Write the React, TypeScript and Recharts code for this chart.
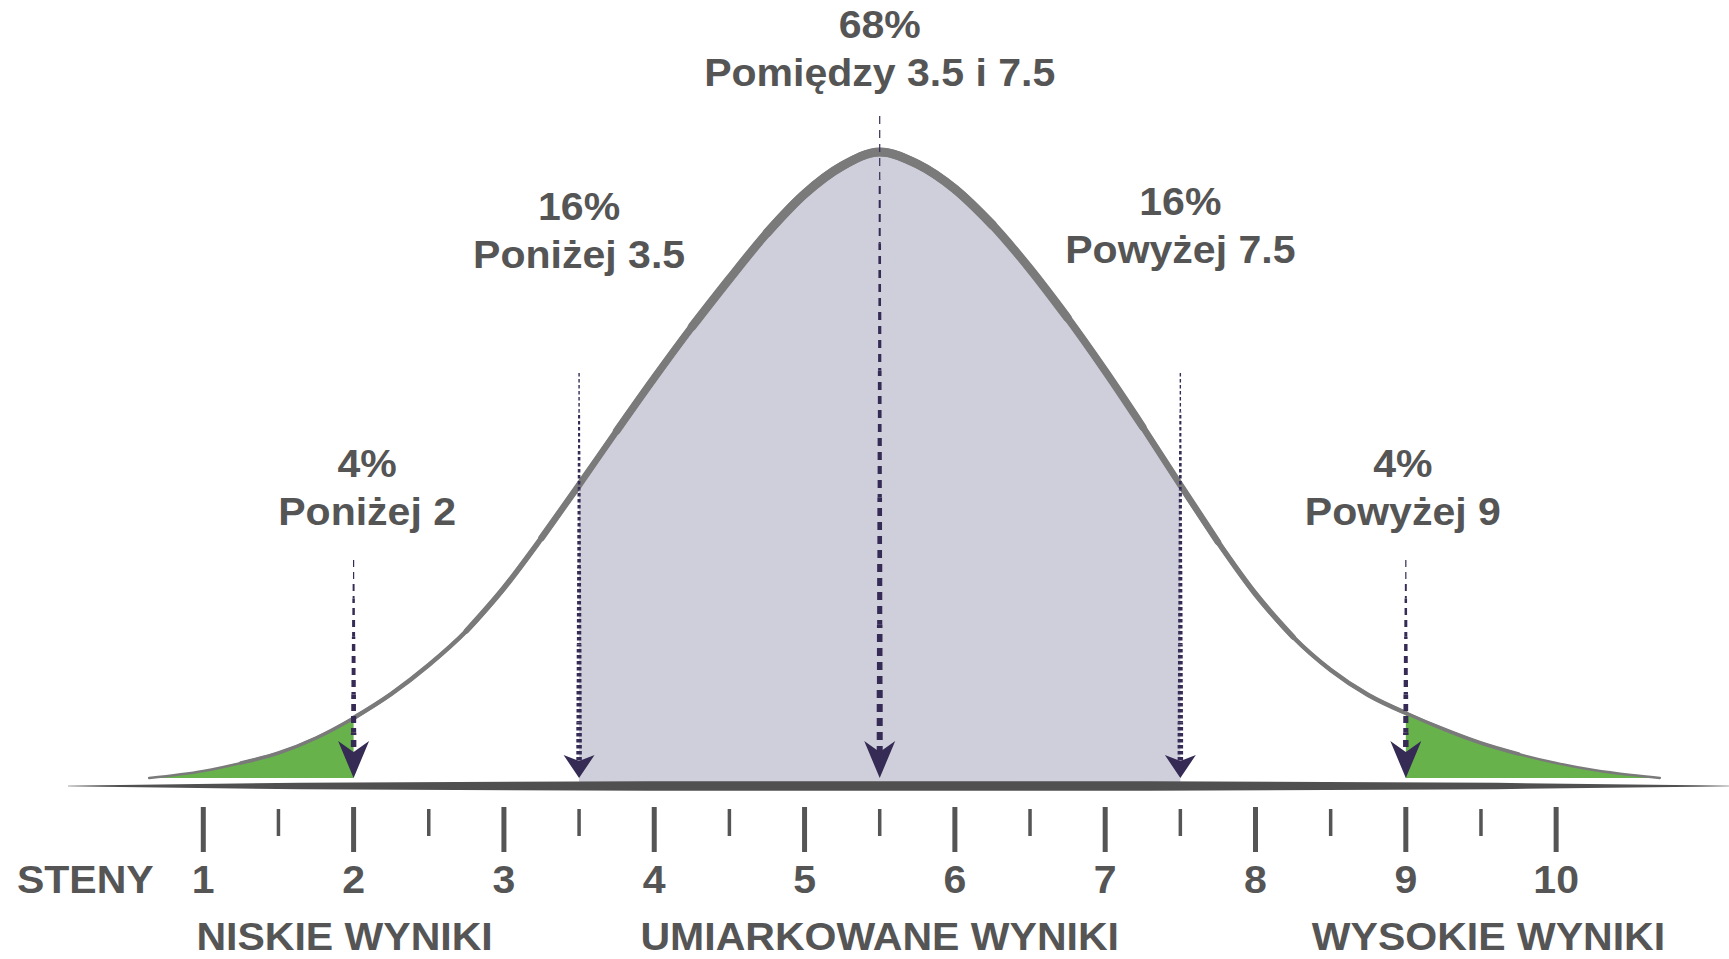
import { ComposedChart, Area, Line, XAxis, YAxis, ReferenceLine, ReferenceDot } from "recharts";

const stenSteps = [0.64, 1, 1.25, 1.5, 1.75, 2, 2.25, 2.5, 2.75, 3, 3.25, 3.5, 3.75, 4, 4.25, 4.5, 4.75, 5, 5.25, 5.5, 5.75, 6, 6.25, 6.5, 6.75, 7, 7.25, 7.5, 7.75, 8, 8.25, 8.5, 8.75, 9, 9.25, 9.5, 9.75, 10, 10.25, 10.5, 10.69];
// curve height above the base line (relative units, peak = 626)
const curveHeight = [0, 7, 15, 25, 40, 60, 84, 113, 147, 190, 240, 293, 347, 400, 451, 499, 545, 584, 612, 626, 614, 589, 553, 509, 460, 407, 351, 293, 236, 184, 141, 108, 83, 65, 49, 35, 24, 15, 8, 3, 0];

const stenTicks = [1, 1.5, 2, 2.5, 3, 3.5, 4, 4.5, 5, 5.5, 6, 6.5, 7, 7.5, 8, 8.5, 9, 9.5, 10];

const lowCut = 2;
const midFrom = 3.5;
const midTo = 7.5;
const highCut = 9;

const arrowX = [2, 3.5, 5.5, 7.5, 9];
const arrowTop = [218, 405, 662, 405, 218];

const annotX = [2.09, 3.5, 5.5, 7.5, 8.98];
const annotLevel = [301, 558, 740, 563, 301];
const annotPct = ["4%", "16%", "68%", "16%", "4%"];
const annotText = ["Poniżej 2", "Poniżej 3.5", "Pomiędzy 3.5 i 7.5", "Powyżej 7.5", "Powyżej 9"];

const groupNames = ["NISKIE WYNIKI", "UMIARKOWANE WYNIKI", "WYSOKIE WYNIKI"];
const groupCenter = [1.94, 5.5, 9.55];

// ---- looks ----
const FONT = "'Liberation Sans', Arial, Helvetica, sans-serif";
const TEXT = "#555555";
const NAVY = "#352b54";
const GREEN = "#68b24c";
const LAVENDER = "#cfcfdb";
const CURVE = "#7a7a7a";
const WIDE = 1.08; // the original lettering is a bit wider than Arial

// the curve's stroke thickens towards the middle
const strokeBands = [
  { from: 0.64, to: 10.69, w: 2.5 },
  { from: 1.25, to: 9.75, w: 3.5 },
  { from: 2, to: 9, w: 4.5 },
  { from: 2.75, to: 8.25, w: 5.5 },
  { from: 3.25, to: 7.75, w: 6.5 },
  { from: 3.75, to: 7.25, w: 7.5 },
  { from: 4.25, to: 6.75, w: 8.5 },
  { from: 4.75, to: 6.25, w: 9 },
];

const arrowLook = [
  { head: 37, hw: 15.5, notch: 11, dash: "7 5", w0: 1.2, w1: 5.5 },
  { head: 23, hw: 15.5, notch: 6, dash: "3.5 2.5", w0: 1.4, w1: 5.5 },
  { head: 37, hw: 15.5, notch: 11, dash: "8 6", w0: 1.2, w1: 6 },
  { head: 23, hw: 15.5, notch: 6, dash: "3.5 2.5", w0: 1.4, w1: 5.5 },
  { head: 37, hw: 15.5, notch: 11, dash: "7 5", w0: 1.2, w1: 5.5 },
];
const groupDy = [172, 172, 172];

const data = stenSteps.map((s, i) => {
  const h = curveHeight[i];
  const row: Record<string, number | null> = {
    s,
    h,
    green: s <= lowCut || s >= highCut ? h : null,
    mid: s >= midFrom && s <= midTo ? h : null,
  };
  strokeBands.forEach((b, k) => {
    row["band" + k] = s >= b.from && s <= b.to ? h : null;
  });
  return row;
});

function WideText({ x, y, size = 38, children }: any) {
  return (
    <text
      transform={`translate(${x},${y}) scale(${WIDE},1)`}
      x={0}
      y={0}
      textAnchor="middle"
      fontFamily={FONT}
      fontWeight={700}
      fontSize={size}
      fill={TEXT}
    >
      {children}
    </text>
  );
}

function StenTick(props: any) {
  const { x, y, payload } = props;
  const v = payload.value;
  const major = Number.isInteger(v);
  return (
    <g>
      <line x1={x} x2={x} y1={y + (major ? 19 : 21)} y2={y + (major ? 64 : 48)} stroke="#555" strokeWidth={major ? 5 : 3.5} />
      {major && (
        <WideText x={x} y={y + 105}>
          {v}
        </WideText>
      )}
    </g>
  );
}

function makeArrow(look: (typeof arrowLook)[number]) {
  return (p: any) => {
    const x = p.x1;
    const yTop = Math.min(p.y1, p.y2);
    const yTip = Math.max(p.y1, p.y2);
    const yEnd = yTip - look.head + look.notch;
    const n = 10;
    const segs = [];
    for (let i = 0; i < n; i++) {
      const a = yTop + ((yEnd - yTop) * i) / n;
      const b = yTop + ((yEnd - yTop) * (i + 1)) / n;
      const t = Math.pow(i / (n - 1), 0.8);
      const w = look.w0 + (look.w1 - look.w0) * t;
      segs.push(
        <line key={i} x1={x} x2={x} y1={a} y2={b} stroke={NAVY} strokeWidth={w} strokeDasharray={look.dash} strokeDashoffset={a - yTop} />
      );
    }
    const pts = `${x},${yTip} ${x - look.hw},${yTip - look.head} ${x},${yTip - look.head + look.notch} ${x + look.hw},${yTip - look.head}`;
    return (
      <g>
        {segs}
        <polygon points={pts} fill={NAVY} />
      </g>
    );
  };
}

const baseBar = (p: any) => {
  const { x1, x2, y1 } = p;
  const L = x2 - x1;
  const fr = [0, 0.02, 0.14, 0.35, 0.65, 0.86, 0.98, 1];
  const half = [0.3, 0.8, 3.2, 4.8, 4.8, 3.2, 0.8, 0.3];
  const top = fr.map((f, i) => `${x1 + f * L},${y1 - half[i]}`);
  const bot = fr.map((f, i) => `${x1 + f * L},${y1 + half[i]}`).reverse();
  return <polygon points={[...top, ...bot].join(" ")} fill="#505050" />;
};

export default function App() {
  return (
    <div style={{ position: "absolute", left: 0, top: 0, background: "#fff" }}>
      <ComposedChart width={1729} height={959} data={data} margin={{ top: 78, right: 0, bottom: 0, left: 68 }}>
        <XAxis
          dataKey="s"
          type="number"
          domain={[0.1, 11.15]}
          ticks={stenTicks}
          interval={0}
          allowDataOverflow
          axisLine={false}
          tickLine={false}
          tickSize={0}
          tickMargin={0}
          height={171}
          tick={<StenTick />}
        />
        <YAxis type="number" domain={[-10, 700]} hide allowDataOverflow />
        <ReferenceLine y={-8} ifOverflow="visible" shape={baseBar} />
        <Area dataKey="mid" type="monotone" baseValue={-4} fill={LAVENDER} fillOpacity={1} stroke="none" isAnimationActive={false} connectNulls={false} />
        <Area dataKey="green" type="monotone" baseValue={0} fill={GREEN} fillOpacity={1} stroke="none" isAnimationActive={false} connectNulls={false} />
        {strokeBands.map((b, k) => (
          <Line
            key={k}
            dataKey={"band" + k}
            type="monotone"
            stroke={CURVE}
            strokeWidth={b.w}
            strokeLinecap="round"
            dot={false}
            activeDot={false}
            isAnimationActive={false}
          />
        ))}
        {arrowX.map((x, i) => (
          <ReferenceLine
            key={"a" + i}
            segment={[
              { x, y: arrowTop[i] },
              { x, y: 0 },
            ]}
            ifOverflow="visible"
            shape={makeArrow(arrowLook[i])}
          />
        ))}
        {annotX.map((x, i) => (
          <ReferenceDot
            key={"t" + i}
            x={x}
            y={annotLevel[i]}
            r={0}
            ifOverflow="visible"
            shape={(p: any) => (
              <g>
                <WideText x={p.cx} y={p.cy}>
                  {annotPct[i]}
                </WideText>
                <WideText x={p.cx} y={p.cy + 48}>
                  {annotText[i]}
                </WideText>
              </g>
            )}
          />
        ))}
        {groupNames.map((g, i) => (
          <ReferenceDot
            key={"g" + i}
            x={groupCenter[i]}
            y={0}
            r={0}
            ifOverflow="visible"
            shape={(p: any) => (
              <WideText x={p.cx} y={p.cy + groupDy[i]}>
                {g}
              </WideText>
            )}
          />
        ))}
        <ReferenceDot
          x={1}
          y={0}
          r={0}
          ifOverflow="visible"
          shape={(p: any) => (
            <WideText x={p.cx - 118} y={p.cy + 115}>
              STENY
            </WideText>
          )}
        />
      </ComposedChart>
    </div>
  );
}
